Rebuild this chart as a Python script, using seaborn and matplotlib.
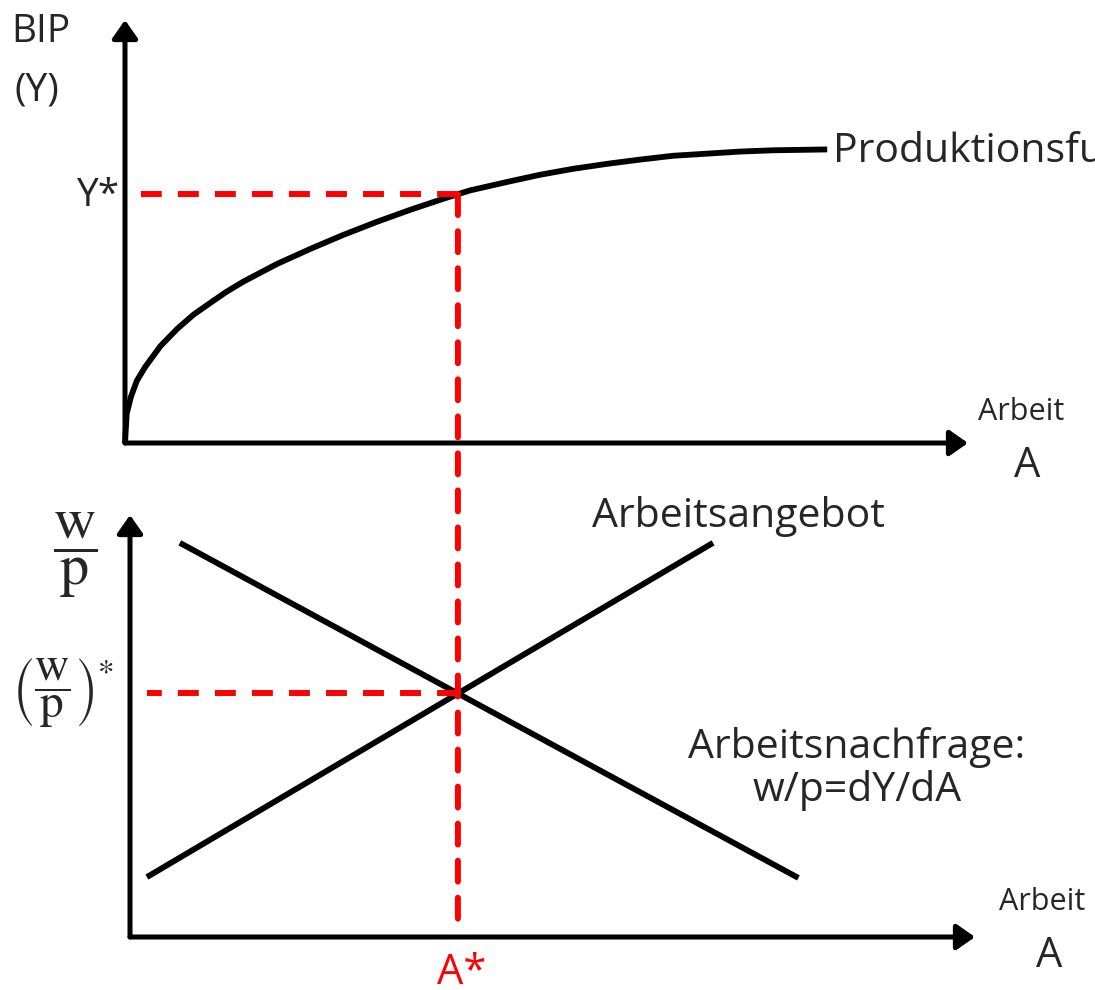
import numpy as np
import matplotlib
matplotlib.use("Agg")
import matplotlib.pyplot as plt
import seaborn as sns
from matplotlib.patches import ConnectionPatch

# Produktionsfunktion: Arbeit -> BIP
arbeit = [0, 0.02, 0.07, 0.14, 0.24, 0.42, 0.62, 0.81, 1.01, 1.20, 1.40, 1.60,
          1.80, 2.20, 2.59, 2.99, 3.38, 3.77, 4.09, 4.53, 4.92, 5.31, 5.72,
          6.11, 6.50, 6.90, 7.30, 7.69, 8.01, 8.33]
bip = [0, 0.69, 1.09, 1.47, 1.80, 2.29, 2.70, 3.03, 3.31, 3.57, 3.81, 4.02,
       4.23, 4.59, 4.92, 5.23, 5.51, 5.77, 5.97, 6.17, 6.34, 6.48, 6.60,
       6.70, 6.79, 6.84, 6.89, 6.92, 6.93, 6.94]

# Arbeitsmarkt: Angebot und Nachfrage (Endpunkte)
angebot_a = [0.20, 6.90]
angebot_w = [1.42, 9.34]
nachfrage_a = [0.59, 7.91]
nachfrage_w = [9.34, 1.40]

sns.set_theme(style="white")
plt.rcParams["font.family"] = ["Open Sans", "DejaVu Sans"]
plt.rcParams["mathtext.fontset"] = "stix"

W, H = 1095, 990
fig = plt.figure(figsize=(W / 100, H / 100), dpi=100)


def fx(x):
    return x / W


def fy(y):
    return 1 - y / H


ax_top = fig.add_axes([125 / W, 1 - 443 / H, 843 / W, 423 / H])
ax_bot = fig.add_axes([130 / W, 1 - 937 / H, 845 / W, 422 / H])

red = "#ff0000"
dash = (0, (3.5, 2.7))

for ax in (ax_top, ax_bot):
    ax.set_xlim(0, 10)
    ax.set_ylim(0, 10)
    ax.axis("off")
    for tip in [(1, 0), (0, 1)]:
        ax.annotate("", xy=tip, xytext=(0, 0), xycoords="axes fraction",
                    annotation_clip=False,
                    arrowprops=dict(arrowstyle="-|>,head_length=0.5,head_width=0.35",
                                    color="black", lw=3.6, mutation_scale=22,
                                    shrinkA=0, shrinkB=0))

# curves
sns.lineplot(x=arbeit, y=bip, ax=ax_top, color="black", linewidth=4.2, sort=False)
sns.lineplot(x=angebot_a, y=angebot_w, ax=ax_bot, color="black", linewidth=4.2)
sns.lineplot(x=nachfrage_a, y=nachfrage_w, ax=ax_bot, color="black", linewidth=4.2)
for ax in (ax_top, ax_bot):
    for ln in ax.lines:
        ln.set_clip_on(False)
        ln.set_solid_capstyle("butt")
        ln.set_solid_joinstyle("round")

# equilibrium
m1 = (angebot_w[1] - angebot_w[0]) / (angebot_a[1] - angebot_a[0])
m2 = (nachfrage_w[1] - nachfrage_w[0]) / (nachfrage_a[1] - nachfrage_a[0])
a_eq = (nachfrage_w[0] - angebot_w[0] + m1 * angebot_a[0] - m2 * nachfrage_a[0]) / (m1 - m2)
w_eq = angebot_w[0] + m1 * (a_eq - angebot_a[0])

disp = ax_bot.transData.transform((a_eq, w_eq))
a_top = ax_top.transData.inverted().transform(disp)[0]
y_star = np.interp(a_top, arbeit, bip)

ax_top.plot([a_top, 0.08], [y_star, y_star], color=red, lw=4.3, ls=dash, zorder=5)
ax_bot.plot([a_eq, 0.2], [w_eq, w_eq], color=red, lw=4.3, ls=dash, zorder=5)
con = ConnectionPatch(xyA=(a_top, y_star), coordsA=ax_top.transData,
                      xyB=(a_eq, 0.28), coordsB=ax_bot.transData,
                      color=red, lw=4.3, linestyle=dash, zorder=6)
fig.add_artist(con)

# labels
fs = 29.5
fig.text(fx(11), fy(42), "BIP", size=28, va="baseline", ha="left")
fig.text(fx(14), fy(101), "(Y)", size=28, va="baseline", ha="left")
fig.text(fx(119), fy(206), "Y*", size=28, va="baseline", ha="right")
fig.text(fx(833), fy(162), "Produktionsfunktion", size=fs, va="baseline", ha="left")
fig.text(fx(1021), fy(420), "Arbeit", size=22, va="baseline", ha="center")
fig.text(fx(1027), fy(477), "A", size=30, va="baseline", ha="center")

fig.text(fx(75), fy(555), r"$\dfrac{\mathrm{w}}{\mathrm{p}}$", size=42, va="center", ha="center")
fig.text(fx(63), fy(693), r"$\left(\dfrac{\mathrm{w}}{\mathrm{p}}\right)^{*}$", size=34,
         va="center", ha="center")
fig.text(fx(592), fy(527), "Arbeitsangebot", size=fs, va="baseline", ha="left")
fig.text(fx(857), fy(758), "Arbeitsnachfrage:", size=fs, va="baseline", ha="center")
fig.text(fx(857), fy(801), "w/p=dY/dA", size=fs, va="baseline", ha="center")
fig.text(fx(1042), fy(910), "Arbeit", size=22, va="baseline", ha="center")
fig.text(fx(1049), fy(967), "A", size=30, va="baseline", ha="center")
fig.text(fx(462), fy(984), "A*", size=30, va="baseline", ha="center", color=red)

fig.savefig("out.png", dpi=100)
